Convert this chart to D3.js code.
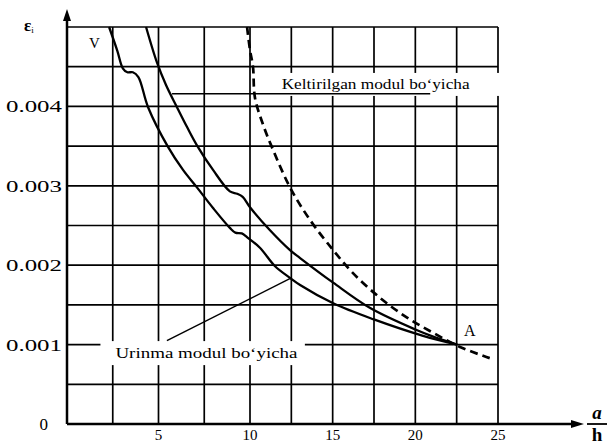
<!DOCTYPE html>
<html>
<head>
<meta charset="utf-8">
<script src="https://cdn.jsdelivr.net/npm/d3@7"></script>
<style>
  body { margin: 0; background: #fff; }
  text { font-family: "Liberation Serif", "Times New Roman", serif; fill: #000; }
</style>
</head>
<body>
<div id="chart"></div>
<script>
/*global d3*/

// tick values and labels
const xTicks = [5, 10, 15, 20, 25];
const yTicks = [0, 0.001, 0.002, 0.003, 0.004];
const yTickLabels = ["0", "0.001", "0.002", "0.003", "0.004"];

// curves: [a/h, eps]
const urinmaLower = [
  [2.30, 0.00500], [2.75, 0.00470], [3.05, 0.00448], [3.30, 0.00443], [3.60, 0.00443],
  [3.90, 0.00437], [4.43, 0.00399], [5.52, 0.00349], [6.34, 0.00320], [7.10, 0.00298],
  [7.98, 0.00272], [8.90, 0.00247], [9.20, 0.00241], [9.55, 0.00240], [9.85, 0.00235],
  [10.6, 0.00222], [11.5, 0.00199], [12.42, 0.00184], [13.03, 0.00175], [15.03, 0.00152],
  [17.45, 0.00132], [20.47, 0.00111], [22.53, 0.00100]
];
const urinmaUpper = [
  [4.32, 0.00500], [4.92, 0.00455], [5.41, 0.00427], [6.01, 0.00399], [6.56, 0.00374],
  [7.10, 0.00351], [7.98, 0.00320], [8.90, 0.00293], [9.30, 0.00290], [9.60, 0.00286],
  [10.0, 0.00273], [11.21, 0.00244], [12.42, 0.00219], [13.03, 0.00209], [15.03, 0.00178],
  [17.27, 0.00146], [20.11, 0.00118], [21.08, 0.00110], [22.53, 0.00100]
];
const keltirilgan = [
  [9.84, 0.00500], [10.0, 0.00471], [10.18, 0.00450], [10.3, 0.00411], [10.79, 0.00377],
  [11.4, 0.00345], [12.42, 0.00298], [13.63, 0.00257], [15.03, 0.00219], [16.23, 0.00190],
  [17.86, 0.00159], [19.5, 0.00134], [21.07, 0.00115], [22.7, 0.00097], [24.5, 0.00083]
];

const width = 608;
const height = 446;

const svg = d3.select("#chart")
  .append("svg")
    .attr("width", width)
    .attr("height", height);

// the scan is a bit stretched on the left, so the x scale has a middle stop
const x = d3.scaleLinear().domain([0, 10, 25]).range([67, 250, 498]);
const y = d3.scaleLinear().domain([0, 0.005]).range([424, 27]);

// grid
const grid = svg.append("g").attr("stroke", "#000").attr("stroke-width", 1.7);
grid.selectAll(".vgrid")
  .data(d3.range(2.5, 25.01, 2.5))
  .join("line")
    .attr("x1", d => x(d)).attr("x2", d => x(d))
    .attr("y1", y(0)).attr("y2", y(0.005));
grid.selectAll(".hgrid")
  .data(d3.range(0.0005, 0.00501, 0.0005))
  .join("line")
    .attr("x1", x(0)).attr("x2", x(25))
    .attr("y1", d => y(d)).attr("y2", d => y(d));

// label boxes cover the grid behind the text
function label(txt, cx, cy, len, padL, padR, padT, padB) {
  const g = svg.append("g");
  const t = g.append("text")
    .attr("x", cx).attr("y", cy)
    .attr("text-anchor", "middle")
    .attr("font-size", 15)
    .attr("textLength", len)
    .attr("lengthAdjust", "spacingAndGlyphs")
    .text(txt);
  const b = t.node().getBBox();
  g.insert("rect", "text")
    .attr("x", b.x - padL).attr("y", b.y - padT)
    .attr("width", b.width + padL + padR).attr("height", b.height + padT + padB)
    .attr("fill", "#fff");
  return g;
}

label("Keltirilgan modul bo\u2018yicha", x(17.6), y(0.00422), 188, 28, 30, 3, 4);
label("Urinma modul bo\u2018yicha", x(7.62), y(0.00083), 182, 15, 7, 4, 4);

// leader lines
svg.append("line")
  .attr("x1", x(5.74)).attr("y1", y(0.00416))
  .attr("x2", x(20.9)).attr("y2", y(0.00416))
  .attr("stroke", "#000").attr("stroke-width", 1.5);
svg.append("line")
  .attr("x1", x(5.46)).attr("y1", y(0.00105))
  .attr("x2", x(12.5)).attr("y2", y(0.00184))
  .attr("stroke", "#000").attr("stroke-width", 1.5);

// curves
const line = d3.line()
  .x(d => x(d[0]))
  .y(d => y(d[1]))
  .curve(d3.curveCatmullRom.alpha(0.5));

svg.append("path").datum(urinmaLower)
  .attr("d", line)
  .attr("fill", "none").attr("stroke", "#000").attr("stroke-width", 2.3);
svg.append("path").datum(urinmaUpper)
  .attr("d", line)
  .attr("fill", "none").attr("stroke", "#000").attr("stroke-width", 2.3);
svg.append("path").datum(keltirilgan)
  .attr("d", line)
  .attr("fill", "none").attr("stroke", "#000").attr("stroke-width", 2.7)
  .attr("stroke-dasharray", "8,5");

// axes
svg.append("line")
  .attr("x1", x(0)).attr("y1", y(0))
  .attr("x2", x(0)).attr("y2", 18)
  .attr("stroke", "#000").attr("stroke-width", 2.5);
svg.append("path")
  .attr("d", `M${x(0)},9 L${x(0) - 4},21 L${x(0) + 4},21 Z`)
  .attr("fill", "#000");
svg.append("line")
  .attr("x1", x(0)).attr("y1", y(0))
  .attr("x2", 574).attr("y2", y(0))
  .attr("stroke", "#000").attr("stroke-width", 2.5);
svg.append("path")
  .attr("d", `M584,${y(0)} L571,${y(0) - 4} L571,${y(0) + 4} Z`)
  .attr("fill", "#000");

// tick labels
svg.selectAll(".xlab")
  .data(xTicks)
  .join("text")
    .attr("x", d => x(d))
    .attr("y", 440)
    .attr("text-anchor", "middle")
    .attr("font-size", 15)
    .text(d => d);

svg.selectAll(".ylab")
  .data(yTicks)
  .join("text")
    .attr("x", (d, i) => i === 0 ? 48 : 6)
    .attr("y", d => y(d) + 6)
    .attr("text-anchor", (d, i) => i === 0 ? "end" : "start")
    .attr("font-size", 17)
    .attr("font-family", (d, i) => i === 0 ? "Liberation Sans, Arial, sans-serif" : null)
    .attr("textLength", (d, i) => i === 0 ? null : 56)
    .attr("lengthAdjust", "spacingAndGlyphs")
    .text((d, i) => yTickLabels[i]);

// axis names
const eps = svg.append("text")
  .attr("x", 24).attr("y", 31)
  .attr("font-size", 17)
  .attr("font-weight", "bold")
  .text("\u03b5");
eps.append("tspan")
  .attr("dy", 2).attr("font-size", 9).attr("font-weight", "normal")
  .text("i");

svg.append("text")
  .attr("x", 597).attr("y", 419)
  .attr("text-anchor", "middle")
  .attr("font-size", 19)
  .attr("font-style", "italic")
  .attr("font-weight", "bold")
  .text("a");
svg.append("line")
  .attr("x1", 587).attr("x2", 607)
  .attr("y1", 424).attr("y2", 424)
  .attr("stroke", "#000").attr("stroke-width", 1.8);
svg.append("text")
  .attr("x", 597).attr("y", 441)
  .attr("text-anchor", "middle")
  .attr("font-size", 19)
  .attr("font-weight", "bold")
  .text("h");

// point names
svg.append("text")
  .attr("x", x(1.5)).attr("y", y(0.00473))
  .attr("text-anchor", "middle")
  .attr("font-size", 15)
  .text("V");
svg.append("text")
  .attr("x", x(23.3)).attr("y", y(0.00111))
  .attr("text-anchor", "middle")
  .attr("font-size", 16)
  .text("A");
</script>
</body>
</html>
